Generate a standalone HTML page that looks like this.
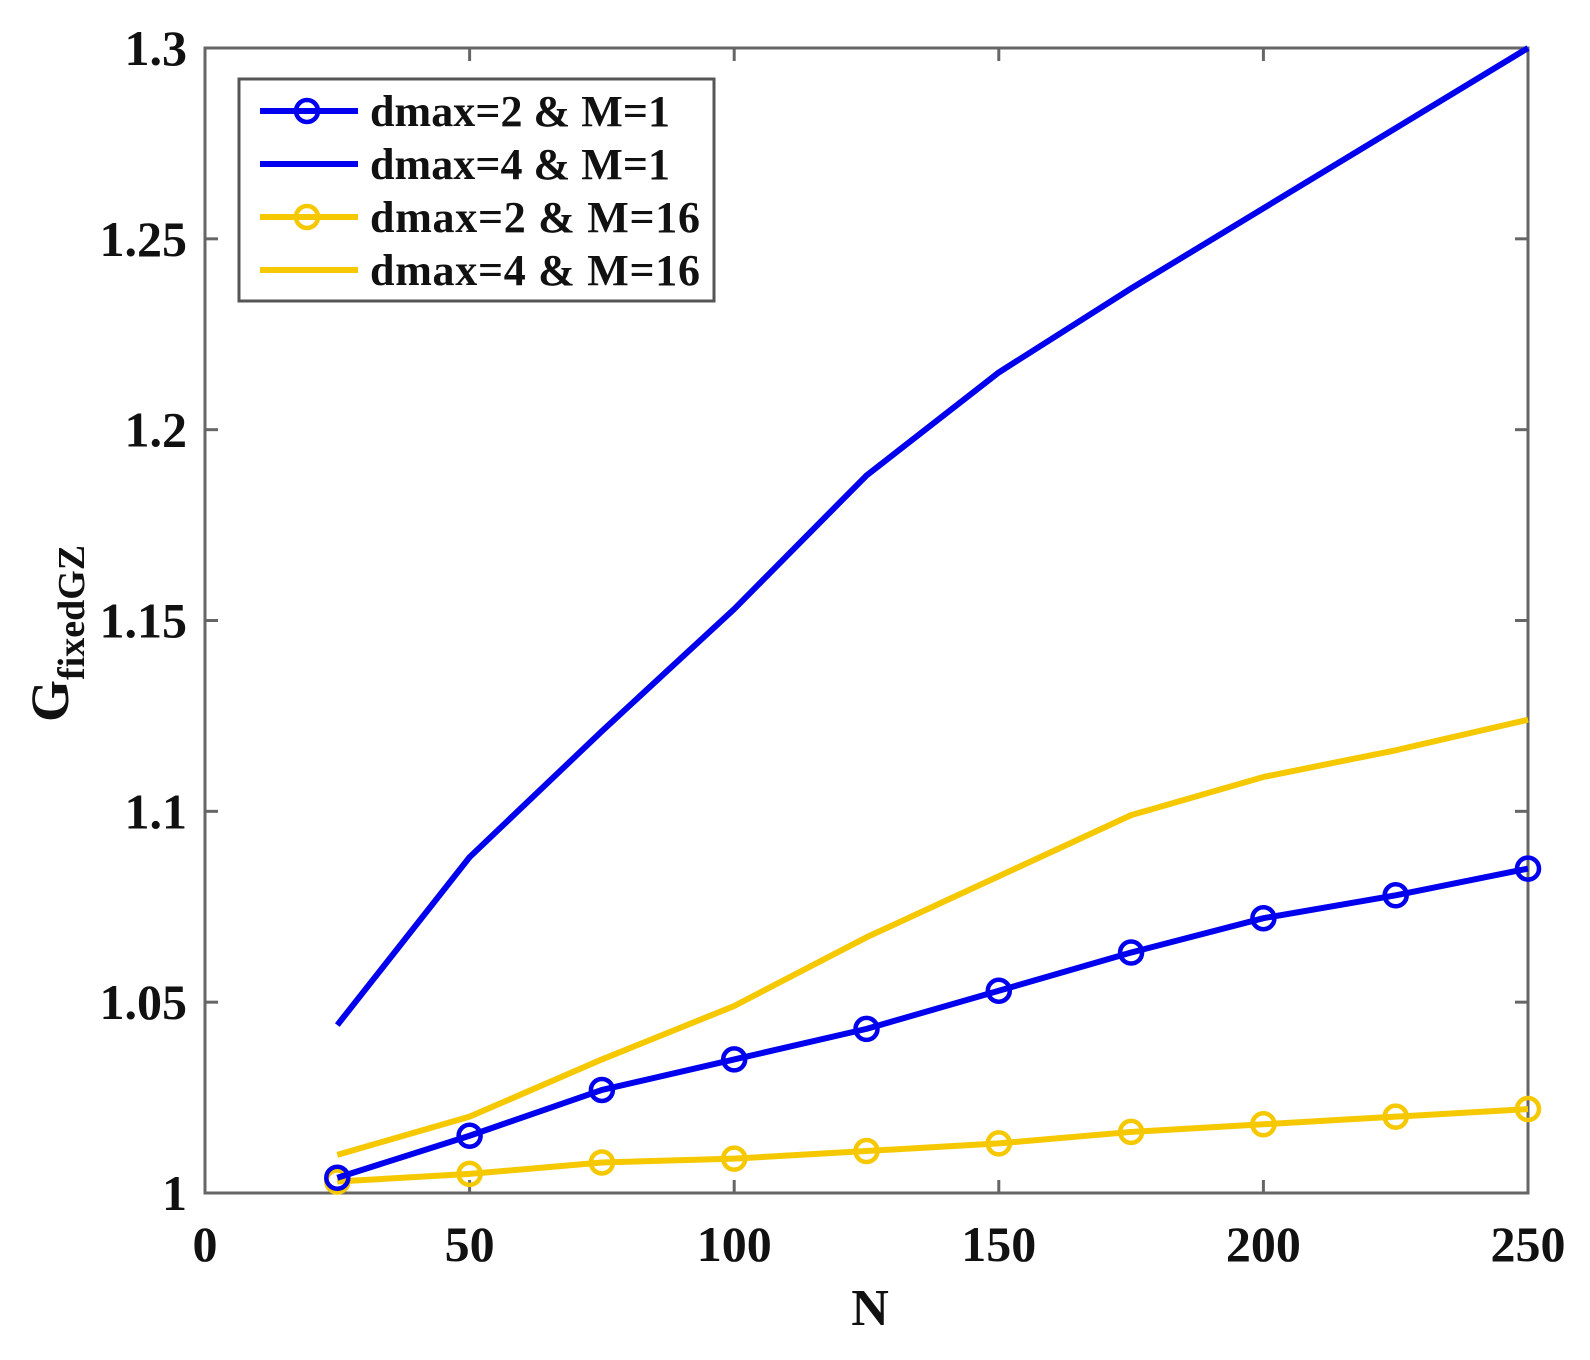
<!DOCTYPE html>
<html><head><meta charset="utf-8"><style>
html,body{margin:0;padding:0;background:#fff;}
svg{display:block;}
text{font-family:"Liberation Serif",serif;font-weight:bold;fill:#111;}
</style></head><body>
<svg id="s" width="1590" height="1360" xmlns="http://www.w3.org/2000/svg">
<rect x="0" y="0" width="1590" height="1360" fill="#fff"/>
<g id="g"></g>
</svg>
<script>
const X0=205,X1=1528,Y0=1193,Y1=48;
const px=n=>X0+(X1-X0)*n/250, py=v=>Y0-(Y0-Y1)*(v-1)/0.3;
const N=[25,50,75,100,125,150,175,200,225,250];
const s4m1=[1.044,1.088,1.121,1.153,1.188,1.215,1.237,1.258,1.279,1.3];
const s2m1=[1.004,1.015,1.027,1.035,1.043,1.053,1.063,1.072,1.078,1.085];
const s4m16=[1.010,1.020,1.035,1.049,1.067,1.083,1.099,1.109,1.116,1.124];
const s2m16=[1.003,1.005,1.008,1.009,1.011,1.013,1.016,1.018,1.020,1.022];
const B="#0000ee",Y="#f5c800";
let h='';
h+=`<rect x="${X0}" y="${Y1}" width="${X1-X0}" height="${Y0-Y1}" fill="none" stroke="#666" stroke-width="3"/>`;
for(let i=0;i<=5;i++){const x=px(i*50);
 h+=`<line x1="${x}" y1="${Y0}" x2="${x}" y2="${Y0-13}" stroke="#666" stroke-width="3"/><line x1="${x}" y1="${Y1}" x2="${x}" y2="${Y1+13}" stroke="#666" stroke-width="3"/>`;
 h+=`<text x="${x}" y="${Y0+68}" font-size="50" text-anchor="middle">${i*50}</text>`;}
const yl=['1','1.05','1.1','1.15','1.2','1.25','1.3'];
for(let i=0;i<=6;i++){const y=py(1+i*0.05);
 h+=`<line x1="${X0}" y1="${y}" x2="${X0+13}" y2="${y}" stroke="#666" stroke-width="3"/><line x1="${X1}" y1="${y}" x2="${X1-13}" y2="${y}" stroke="#666" stroke-width="3"/>`;
 h+=`<text x="${X0-18}" y="${y+17}" font-size="50" text-anchor="end">${yl[i]}</text>`;}
function line(d,c,m){let p=N.map((n,i)=>`${px(n)},${py(d[i])}`).join(' ');
 h+=`<polyline points="${p}" fill="none" stroke="${c}" stroke-width="6" stroke-linejoin="round"/>`;
 if(m)N.forEach((n,i)=>h+=`<circle cx="${px(n)}" cy="${py(d[i])}" r="11" fill="none" stroke="${c}" stroke-width="4.5"/>`);}
line(s4m16,Y,0);line(s2m16,Y,1);line(s4m1,B,0);line(s2m1,B,1);
h+=`<rect x="239" y="79" width="475" height="222" fill="#fff" stroke="#555" stroke-width="3"/>`;
const L=[[B,1,'dmax=2 &amp; M=1'],[B,0,'dmax=4 &amp; M=1'],[Y,1,'dmax=2 &amp; M=16'],[Y,0,'dmax=4 &amp; M=16']];
L.forEach((l,i)=>{const y=111+i*53;
 h+=`<line x1="260" y1="${y}" x2="358" y2="${y}" stroke="${l[0]}" stroke-width="6"/>`;
 if(l[1])h+=`<circle cx="307" cy="${y}" r="11" fill="none" stroke="${l[0]}" stroke-width="4.5"/>`;
 h+=`<text x="370" y="${y+15}" font-size="44" textLength="${i<2?300:330}">${l[2]}</text>`;});
h+=`<text x="870" y="1325" font-size="52" text-anchor="middle">N</text>`;
h+=`<text transform="translate(68,722) rotate(-90)" font-size="54">G<tspan font-size="38" dy="16">fixedGZ</tspan></text>`;
document.getElementById('g').innerHTML=h;
</script>
</body></html>
